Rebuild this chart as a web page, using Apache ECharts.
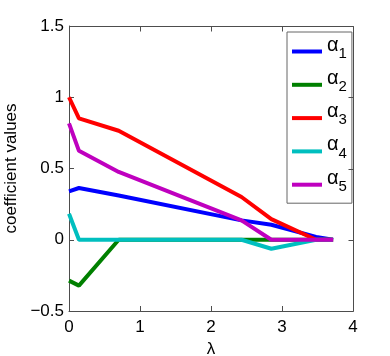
<!DOCTYPE html>
<html>
<head>
<meta charset="utf-8">
<script src="https://cdn.jsdelivr.net/npm/echarts@6/dist/echarts.min.js"></script>
<style>html,body{margin:0;padding:0;background:#fff;}#c{width:390px;height:356px;}</style>
</head>
<body>
<div id="c"></div>
<script>
var lambda = [0, 0.14, 0.70, 2.43, 2.85, 3.48, 3.72];
var alpha1 = [0.34, 0.363, 0.31, 0.136, 0.105, 0.02, 0];
var alpha2 = [-0.287, -0.322, 0, 0, 0, 0, 0];
var alpha3 = [1.0, 0.852, 0.765, 0.30, 0.145, 0, 0];
var alpha4 = [0.183, 0, 0, 0, -0.063, 0, 0];
var alpha5 = [0.817, 0.624, 0.476, 0.136, 0, 0, 0];
var xTicks = [0, 1, 2, 3, 4];
var yTicks = [-0.5, 0, 0.5, 1, 1.5];
var seriesNames = ['a1', 'a2', 'a3', 'a4', 'a5'];
var subscripts = ['1', '2', '3', '4', '5'];
var colors = ['#0000ff', '#008000', '#ff0000', '#00bfbf', '#bf00bf'];
var allSeries = [alpha1, alpha2, alpha3, alpha4, alpha5];

var FONT = 'Liberation Sans';
var AXIS_COLOR = '#4d4d4d';
var TICK_LEN = 5;
var chart = echarts.init(document.getElementById('c'));

function pairs(ys) { return lambda.map(function (x, i) { return [x, ys[i]]; }); }

var series = allSeries.map(function (ys, i) {
  return {
    name: seriesNames[i], type: 'line', data: pairs(ys),
    symbol: 'none', color: colors[i],
    lineStyle: { width: 4, color: colors[i] }
  };
});

var xMin = xTicks[0], xMax = xTicks[xTicks.length - 1];
var yMin = yTicks[0], yMax = yTicks[yTicks.length - 1];

var option = {
  animation: false,
  grid: { left: 69, right: 37, top: 26, bottom: 45, outerBoundsMode: 'none' },
  xAxis: {
    type: 'value', min: xMin, max: xMax, interval: 1,
    axisLine: { show: true, onZero: false, lineStyle: { color: AXIS_COLOR } },
    axisTick: { show: true, inside: true, length: TICK_LEN, lineStyle: { color: AXIS_COLOR } },
    splitLine: { show: false },
    name: 'λ', nameLocation: 'middle', nameGap: 27,
    nameTextStyle: { fontFamily: FONT, fontSize: 17, color: '#000' },
    axisLabel: { fontFamily: FONT, fontSize: 17, color: '#000', margin: 8 }
  },
  yAxis: {
    type: 'value', min: yMin, max: yMax, interval: 0.5,
    axisLine: { show: true, onZero: false, lineStyle: { color: AXIS_COLOR } },
    axisTick: { show: true, inside: true, length: TICK_LEN, lineStyle: { color: AXIS_COLOR } },
    splitLine: { show: false },
    name: 'coefficient values', nameLocation: 'middle', nameGap: 46,
    nameTextStyle: { fontFamily: FONT, fontSize: 17, color: '#000' },
    axisLabel: {
      fontFamily: FONT, fontSize: 17, color: '#000', margin: 5,
      formatter: function (v) { return String(v).replace('-', '\u2212'); }
    }
  },
  legend: {
    orient: 'vertical',
    left: 287, top: 32,
    padding: [3, 5, 2, 5],
    itemGap: 0.3,
    itemWidth: 30, itemHeight: 4,
    icon: 'rect',
    backgroundColor: '#fff',
    borderColor: '#666', borderWidth: 1,
    data: seriesNames,
    formatter: function (name) {
      var i = seriesNames.indexOf(name);
      return '{a|α}{s|' + subscripts[i] + '}';
    },
    textStyle: {
      fontFamily: FONT, color: '#000',
      rich: {
        a: { fontFamily: FONT, fontSize: 20, lineHeight: 20, color: '#000', padding: [0, 0, 13, 0] },
        s: { fontFamily: FONT, fontSize: 15, lineHeight: 15, color: '#000', padding: [11, 0, 7, 0] }
      }
    }
  },
  series: series
};
chart.setOption(option);

// Top and right sides of the box, with inward ticks, placed through the axes' scales.
var finder = { xAxisIndex: 0, yAxisIndex: 0 };
var pLB = chart.convertToPixel(finder, [xMin, yMin]);
var pRT = chart.convertToPixel(finder, [xMax, yMax]);
function crisp(v) { return Math.round(v) + 0.5; }
var L = crisp(pLB[0]), B = crisp(pLB[1]), R = crisp(pRT[0]), T = crisp(pRT[1]);
var frameStyle = { stroke: AXIS_COLOR, lineWidth: 1 };
var elements = [
  { type: 'line', shape: { x1: L, y1: T, x2: R, y2: T }, style: frameStyle, silent: true, z: 50 },
  { type: 'line', shape: { x1: R, y1: T, x2: R, y2: B }, style: frameStyle, silent: true, z: 50 }
];
xTicks.forEach(function (v) {
  var px = crisp(chart.convertToPixel(finder, [v, yMax])[0]);
  elements.push({ type: 'line', shape: { x1: px, y1: T, x2: px, y2: T + TICK_LEN }, style: frameStyle, silent: true, z: 50 });
});
yTicks.forEach(function (v) {
  var py = crisp(chart.convertToPixel(finder, [xMax, v])[1]);
  elements.push({ type: 'line', shape: { x1: R, y1: py, x2: R - TICK_LEN, y2: py }, style: frameStyle, silent: true, z: 50 });
});
chart.setOption({ graphic: { elements: elements } });
</script>
</body>
</html>
